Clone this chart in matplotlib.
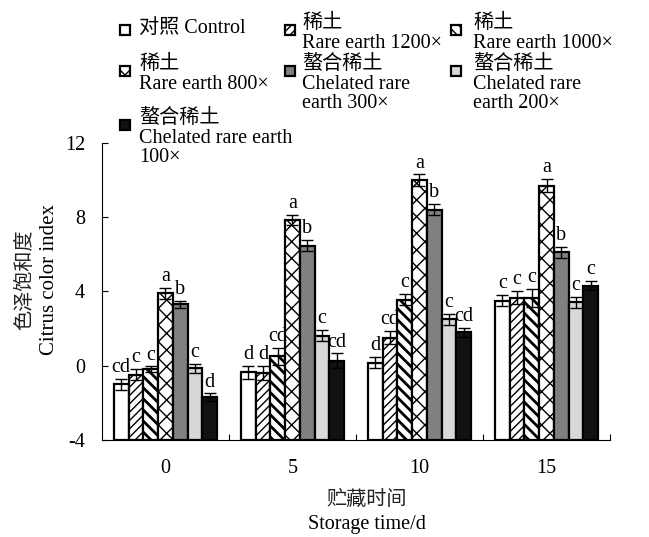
import numpy as np
import matplotlib
matplotlib.use("Agg")
import matplotlib.pyplot as plt
from matplotlib.patches import Rectangle

plt.rcParams['font.family'] = ['Liberation Serif', 'Noto Sans CJK SC']
plt.rcParams['font.size'] = 14.5

days = ['0', '5', '10', '15']
names = ['对照 Control', '稀土\nRare earth 1200×', '稀土\nRare earth 1000×',
         '稀土\nRare earth 800×', '螯合稀土\nChelated rare\nearth 300×',
         '螯合稀土\nChelated rare\nearth 200×', '螯合稀土\nChelated rare earth\n100×']

# values per treatment over days 0, 5, 10, 15
control = [-1.0, -0.35, 0.15, 3.5]
re1200 = [-0.5, -0.4, 1.5, 3.65]
re1000 = [-0.2, 0.5, 3.55, 3.65]
re800 = [3.9, 7.85, 10.0, 9.7]
ch300 = [3.3, 6.45, 8.4, 6.1]
ch200 = [-0.15, 1.6, 2.5, 3.4]
ch100 = [-1.7, 0.25, 1.8, 4.3]

err_control = [0.3, 0.35, 0.3, 0.3]
err_1200 = [0.3, 0.4, 0.35, 0.35]
err_1000 = [0.15, 0.45, 0.3, 0.5]
err_800 = [0.3, 0.25, 0.3, 0.35]
err_300 = [0.2, 0.3, 0.3, 0.3]
err_200 = [0.25, 0.3, 0.3, 0.3]
err_100 = [0.2, 0.4, 0.25, 0.25]

letters = [
    ['cd', 'd', 'd', 'c'],
    ['c', 'd', 'cd', 'c'],
    ['c', 'cd', 'c', 'c'],
    ['a', 'a', 'a', 'a'],
    ['b', 'b', 'b', 'b'],
    ['c', 'c', 'c', 'c'],
    ['d', 'cd', 'cd', 'c'],
]

series = [control, re1200, re1000, re800, ch300, ch200, ch100]
errors = [err_control, err_1200, err_1000, err_800, err_300, err_200, err_100]
colors = ['white', 'white', 'white', 'white', '#808080', '#d8d8d8', '#111111']
hatches = [None, '////', '\\\\\\', 'xx', None, None, None]
hatch_lw = [1, 1.0, 2.0, 1.0, 1, 1, 1]

fig = plt.figure(figsize=(6.49, 5.37), dpi=100)
ax = fig.add_axes([0.157, 0.181, 0.783, 0.553])

bottom = -4
w = 0.116
x = np.arange(len(days))
for i, vals in enumerate(series):
    xs = x + (i - 3) * w
    vals = np.array(vals)
    bars = ax.bar(xs, vals - bottom, bottom=bottom, width=w, color=colors[i],
                  edgecolor='black', linewidth=1.6, hatch=hatches[i], zorder=2)
    for b in bars:
        try:
            b.set_hatch_linewidth(hatch_lw[i])
        except AttributeError:
            pass
    ax.errorbar(xs, vals, yerr=errors[i], fmt='none', ecolor='black',
                elinewidth=1, capsize=4, capthick=1, zorder=3)
    for j in range(len(days)):
        ax.text(xs[j], vals[j] + errors[i][j] + 0.1, letters[i][j],
                ha='center', va='bottom', fontsize=14.5)

ax.set_ylim(-4, 12)
ax.set_xlim(-0.5, 3.5)
ax.set_yticks([-4, 0, 4, 8, 12])
ax.set_yticklabels(['-4', '0', '4', '8', '12'])
ax.set_xticks([0.5, 1.5, 2.5, 3.5])
ax.set_xticklabels([])
ax.set_xticks(x, minor=True)
ax.set_xticklabels(days, minor=True)
ax.tick_params(axis='x', which='minor', length=0, pad=14, labelsize=14.5)
ax.tick_params(axis='x', which='major', direction='in', length=4)
ax.tick_params(axis='y', direction='in', length=4, pad=12, labelsize=14.5)
ax.spines['top'].set_visible(False)
ax.spines['right'].set_visible(False)

fig.text(0.565, 0.068, '贮藏时间', ha='center', va='center', fontsize=14.5, color='#222222')
fig.text(0.565, 0.024, 'Storage time/d', ha='center', va='center', fontsize=14.5)
fig.text(0.040, 0.48, '色泽饱和度', ha='center', va='center', rotation=90, fontsize=14.5, color='#222222')
fig.text(0.076, 0.48, 'Citrus color index', ha='center', va='center', rotation=90, fontsize=15)

# legend laid out by rows of three
leg_x = [125, 290, 456]
txt_x = [139, 302, 473]
leg_y = [30, 71, 125]
W, H = 649, 537
for k, name in enumerate(names):
    r, c = divmod(k, 3)
    sx, sy = leg_x[c], leg_y[r]
    fig.patches.append(Rectangle(((sx - 5) / W, 1 - (sy + 5) / H), 10 / W, 10 / H,
                                 transform=fig.transFigure, facecolor=colors[k],
                                 edgecolor='black', linewidth=1.6, hatch=hatches[k]))
    if '\n' in name:
        fig.text(txt_x[c] / W, 1 - (sy - 16) / H, name, ha='left', va='top',
                 fontsize=14.5, linespacing=1.05)
    else:
        fig.text(txt_x[c] / W, 1 - (sy - 2) / H, name, ha='left', va='center',
                 fontsize=14.5)

fig.savefig('out.png', dpi=100)
